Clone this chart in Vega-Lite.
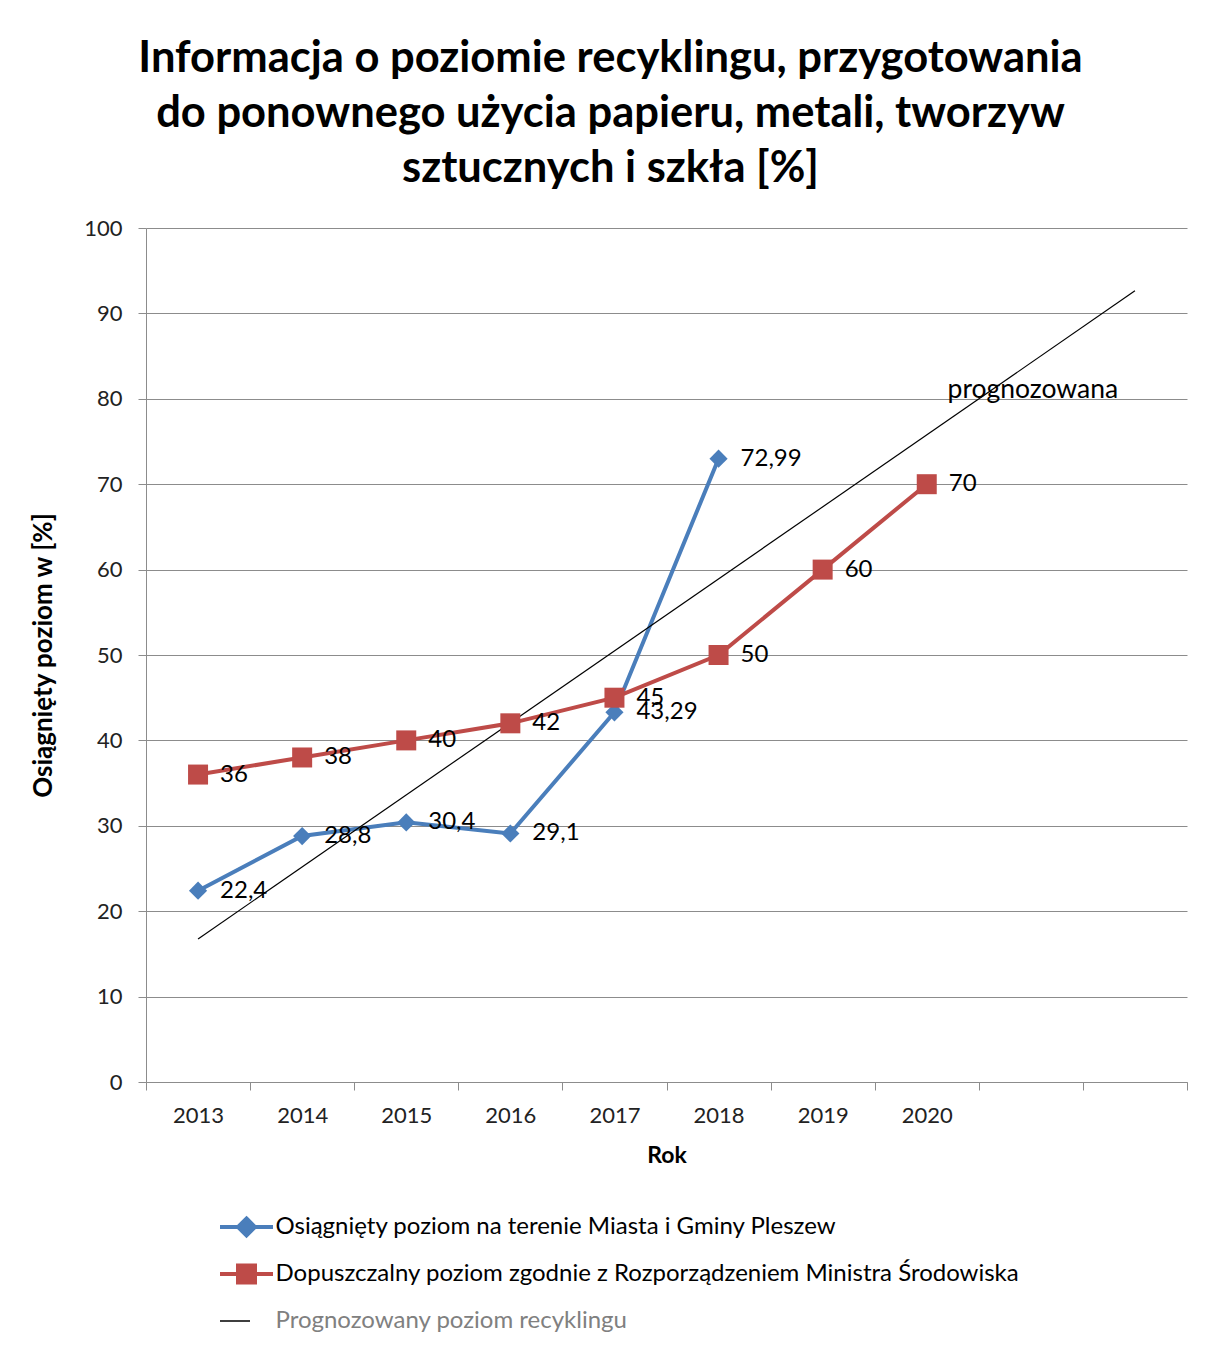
{
  "$schema": "https://vega.github.io/schema/vega-lite/v6.json",
  "autosize": {"type": "none"},
  "width": 1041,
  "height": 854,
  "padding": {"left": 146, "top": 228, "right": 25, "bottom": 265},
  "background": "white",
  "config": {
    "font": "Lato",
    "view": {"stroke": null},
    "axis": {"labelFont": "Lato", "titleFont": "Lato", "labelFontSize": 22, "titleFontSize": 22, "labelColor": "#222222", "titleColor": "#000000", "domainColor": "#8c8c8c", "tickColor": "#8c8c8c", "gridColor": "#8c8c8c", "gridOpacity": 1, "tickSize": 8},
    "legend": {"symbolStrokeWidth": 4}
  },
  "title": {
    "text": ["Informacja o poziomie recyklingu, przygotowania", "do ponownego użycia papieru, metali, tworzyw", "sztucznych i szkła [%]"],
    "font": "Lato",
    "fontSize": 43.5,
    "fontWeight": "bold",
    "lineHeight": 55,
    "anchor": "middle",
    "dx": -56,
    "offset": 26,
    "color": "#000000"
  },
  "datasets": {
    "dane": [
      {"seria": "Osiągnięty poziom na terenie Miasta i Gminy Pleszew", "rok": "2013", "wartosc": 22.4, "etykieta": "22,4"},
      {"seria": "Osiągnięty poziom na terenie Miasta i Gminy Pleszew", "rok": "2014", "wartosc": 28.8, "etykieta": "28,8"},
      {"seria": "Osiągnięty poziom na terenie Miasta i Gminy Pleszew", "rok": "2015", "wartosc": 30.4, "etykieta": "30,4"},
      {"seria": "Osiągnięty poziom na terenie Miasta i Gminy Pleszew", "rok": "2016", "wartosc": 29.1, "etykieta": "29,1"},
      {"seria": "Osiągnięty poziom na terenie Miasta i Gminy Pleszew", "rok": "2017", "wartosc": 43.29, "etykieta": "43,29"},
      {"seria": "Osiągnięty poziom na terenie Miasta i Gminy Pleszew", "rok": "2018", "wartosc": 72.99, "etykieta": "72,99"},
      {"seria": "Dopuszczalny poziom zgodnie z Rozporządzeniem Ministra Środowiska", "rok": "2013", "wartosc": 36, "etykieta": "36"},
      {"seria": "Dopuszczalny poziom zgodnie z Rozporządzeniem Ministra Środowiska", "rok": "2014", "wartosc": 38, "etykieta": "38"},
      {"seria": "Dopuszczalny poziom zgodnie z Rozporządzeniem Ministra Środowiska", "rok": "2015", "wartosc": 40, "etykieta": "40"},
      {"seria": "Dopuszczalny poziom zgodnie z Rozporządzeniem Ministra Środowiska", "rok": "2016", "wartosc": 42, "etykieta": "42"},
      {"seria": "Dopuszczalny poziom zgodnie z Rozporządzeniem Ministra Środowiska", "rok": "2017", "wartosc": 45, "etykieta": "45"},
      {"seria": "Dopuszczalny poziom zgodnie z Rozporządzeniem Ministra Środowiska", "rok": "2018", "wartosc": 50, "etykieta": "50"},
      {"seria": "Dopuszczalny poziom zgodnie z Rozporządzeniem Ministra Środowiska", "rok": "2019", "wartosc": 60, "etykieta": "60"},
      {"seria": "Dopuszczalny poziom zgodnie z Rozporządzeniem Ministra Środowiska", "rok": "2020", "wartosc": 70, "etykieta": "70"},
      {"seria": "Prognozowany poziom recyklingu", "rok": "2013", "wartosc": 16.75, "etykieta": null},
      {"seria": "Prognozowany poziom recyklingu", "rok": "2022", "wartosc": 92.64, "etykieta": null}
    ],
    "adnotacja": [
      {"rok": "2021", "wartosc": 81, "tekst": "prognozowana"}
    ]
  },
  "encoding": {
    "x": {
      "field": "rok", "type": "nominal",
      "scale": {"type": "band", "domain": ["2013", "2014", "2015", "2016", "2017", "2018", "2019", "2020", "2021", "2022"], "paddingInner": 0, "paddingOuter": 0},
      "axis": {"tickBand": "extent", "labelAngle": 0, "grid": false, "labelPadding": 15, "labelExpr": "datum.value == '2021' || datum.value == '2022' ? '' : datum.label", "title": "Rok", "titleFontWeight": "bold", "titleFontSize": 23, "titlePadding": 18}
    },
    "y": {
      "field": "wartosc", "type": "quantitative",
      "scale": {"domain": [0, 100], "nice": false, "zero": true},
      "axis": {"values": [0, 10, 20, 30, 40, 50, 60, 70, 80, 90, 100], "grid": true, "labelPadding": 16, "title": "Osiągnięty poziom w [%]", "titleFontWeight": "bold", "titleFontSize": 26, "titlePadding": 27}
    }
  },
  "layer": [
    {
      "data": {"name": "dane"},
      "transform": [{"filter": "false"}],
      "mark": {"type": "point", "filled": true, "opacity": 1},
      "encoding": {
        "fill": {"field": "seria", "type": "nominal",
          "scale": {"domain": ["Osiągnięty poziom na terenie Miasta i Gminy Pleszew", "Dopuszczalny poziom zgodnie z Rozporządzeniem Ministra Środowiska", "Prognozowany poziom recyklingu"], "range": ["#4A7EBB", "#BE4B48", "#000000"]},
          "legend": {"orient": "none", "legendX": 88.5, "legendY": 987, "direction": "vertical", "title": null, "padding": 0, "labelFont": "Lato", "labelFontSize": 24, "labelLimit": 0, "symbolSize": 400, "symbolStrokeWidth": 4, "labelOffset": 17, "rowPadding": 13, "labelColor": {"expr": "datum.value === 'Prognozowany poziom recyklingu' ? '#808080' : '#000000'"}}},
        "stroke": {"field": "seria", "type": "nominal",
          "scale": {"domain": ["Osiągnięty poziom na terenie Miasta i Gminy Pleszew", "Dopuszczalny poziom zgodnie z Rozporządzeniem Ministra Środowiska", "Prognozowany poziom recyklingu"], "range": ["#4A7EBB", "#BE4B48", "transparent"]},
          "legend": {"orient": "none", "legendX": 88.5, "legendY": 987, "direction": "vertical", "title": null, "padding": 0, "labelFont": "Lato", "labelFontSize": 24, "labelLimit": 0, "symbolSize": 400, "symbolStrokeWidth": 4, "labelOffset": 17, "rowPadding": 13, "labelColor": {"expr": "datum.value === 'Prognozowany poziom recyklingu' ? '#808080' : '#000000'"}}},
        "shape": {"field": "seria", "type": "nominal",
          "scale": {"domain": ["Osiągnięty poziom na terenie Miasta i Gminy Pleszew", "Dopuszczalny poziom zgodnie z Rozporządzeniem Ministra Środowiska", "Prognozowany poziom recyklingu"], "range": ["M-2.65,0L2.65,0M0,-0.85L0.85,0L0,0.85L-0.85,0Z", "M-2.65,0L2.65,0M-0.85,-0.85L0.85,-0.85L0.85,0.85L-0.85,0.85Z", "M-2.65,-0.065L0.35,-0.065L0.35,0.065L-2.65,0.065ZM0,-0.85L0,0.85"]},
          "legend": {"orient": "none", "legendX": 88.5, "legendY": 987, "direction": "vertical", "title": null, "padding": 0, "labelFont": "Lato", "labelFontSize": 24, "labelLimit": 0, "symbolSize": 400, "symbolStrokeWidth": 4, "labelOffset": 17, "rowPadding": 13, "labelColor": {"expr": "datum.value === 'Prognozowany poziom recyklingu' ? '#808080' : '#000000'"}}}
      }
    },
    {
      "data": {"name": "dane"},
      "transform": [{"filter": "datum.seria !== 'Prognozowany poziom recyklingu'"}],
      "mark": {"type": "line", "strokeWidth": 4},
      "encoding": {
        "stroke": {"field": "seria", "type": "nominal"}
      }
    },
    {
      "data": {"name": "dane"},
      "transform": [{"filter": "datum.seria === 'Prognozowany poziom recyklingu'"}],
      "mark": {"type": "line", "strokeWidth": 1.2, "stroke": "#000000"},
      "encoding": {
        "detail": {"field": "seria", "type": "nominal"}
      }
    },
    {
      "data": {"name": "dane"},
      "transform": [{"filter": "datum.seria === 'Osiągnięty poziom na terenie Miasta i Gminy Pleszew'"}],
      "mark": {"type": "point", "shape": "diamond", "size": 330, "filled": true, "opacity": 1},
      "encoding": {
        "fill": {"field": "seria", "type": "nominal"}
      }
    },
    {
      "data": {"name": "dane"},
      "transform": [{"filter": "datum.seria === 'Dopuszczalny poziom zgodnie z Rozporządzeniem Ministra Środowiska'"}],
      "mark": {"type": "point", "shape": "square", "size": 400, "filled": true, "opacity": 1},
      "encoding": {
        "fill": {"field": "seria", "type": "nominal"}
      }
    },
    {
      "data": {"name": "dane"},
      "transform": [{"filter": "datum.etykieta != null"}],
      "mark": {"type": "text", "align": "left", "baseline": "middle", "dx": 22, "fontSize": 24, "font": "Lato", "color": "#000000"},
      "encoding": {
        "text": {"field": "etykieta", "type": "nominal"}
      }
    },
    {
      "data": {"name": "adnotacja"},
      "mark": {"type": "text", "align": "center", "baseline": "middle", "dx": 2, "fontSize": 26.5, "font": "Lato", "color": "#000000"},
      "encoding": {
        "text": {"field": "tekst", "type": "nominal"}
      }
    }
  ]
}
